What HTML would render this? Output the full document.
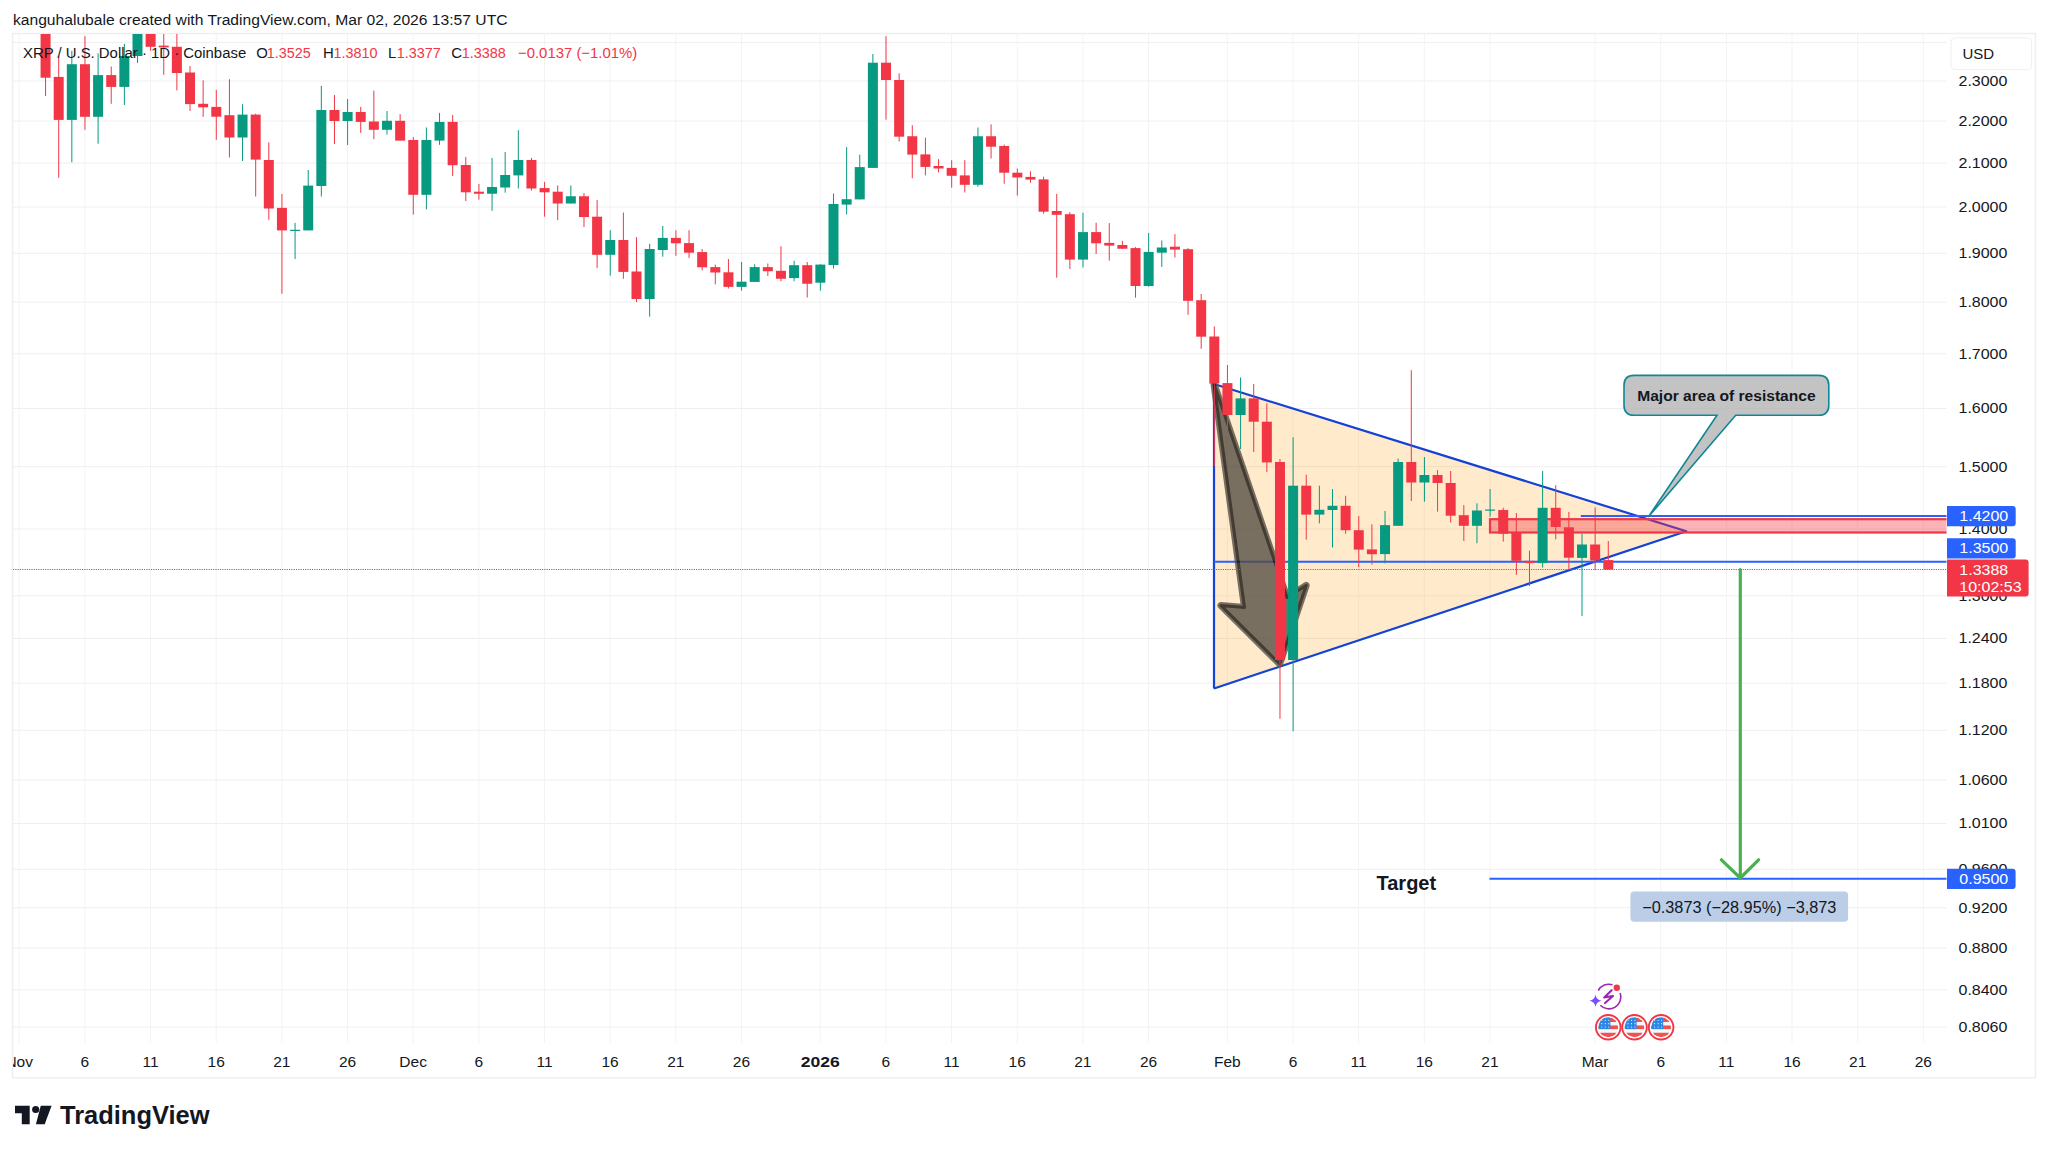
<!DOCTYPE html>
<html><head><meta charset="utf-8"><style>html,body{margin:0;padding:0;background:#fff;width:2048px;height:1152px;overflow:hidden;position:relative}</style></head>
<body><svg width="2048" height="1152" viewBox="0 0 2048 1152" style="position:absolute;left:0;top:0"><defs><clipPath id="plot"><rect x="13" y="34" width="1933.5" height="1008.8"/></clipPath><clipPath id="xax"><rect x="13" y="1043" width="1933.5" height="34"/></clipPath></defs><g stroke="#EFEFEF" stroke-width="1"><line x1="12.5" y1="42.59" x2="1946.5" y2="42.59"/><line x1="12.5" y1="80.99" x2="1946.5" y2="80.99"/><line x1="12.5" y1="121.10" x2="1946.5" y2="121.10"/><line x1="12.5" y1="163.08" x2="1946.5" y2="163.08"/><line x1="12.5" y1="207.10" x2="1946.5" y2="207.10"/><line x1="12.5" y1="253.38" x2="1946.5" y2="253.38"/><line x1="12.5" y1="302.17" x2="1946.5" y2="302.17"/><line x1="12.5" y1="353.74" x2="1946.5" y2="353.74"/><line x1="12.5" y1="408.45" x2="1946.5" y2="408.45"/><line x1="12.5" y1="466.68" x2="1946.5" y2="466.68"/><line x1="12.5" y1="528.93" x2="1946.5" y2="528.93"/><line x1="12.5" y1="595.80" x2="1946.5" y2="595.80"/><line x1="12.5" y1="638.44" x2="1946.5" y2="638.44"/><line x1="12.5" y1="683.19" x2="1946.5" y2="683.19"/><line x1="12.5" y1="730.28" x2="1946.5" y2="730.28"/><line x1="12.5" y1="779.96" x2="1946.5" y2="779.96"/><line x1="12.5" y1="823.56" x2="1946.5" y2="823.56"/><line x1="12.5" y1="869.37" x2="1946.5" y2="869.37"/><line x1="12.5" y1="907.78" x2="1946.5" y2="907.78"/><line x1="12.5" y1="947.89" x2="1946.5" y2="947.89"/><line x1="12.5" y1="989.86" x2="1946.5" y2="989.86"/><line x1="12.5" y1="1027.14" x2="1946.5" y2="1027.14"/><line x1="19.20" y1="33.4" x2="19.20" y2="1042.8" stroke="#F3F3F3"/><line x1="84.86" y1="33.4" x2="84.86" y2="1042.8" stroke="#F3F3F3"/><line x1="150.52" y1="33.4" x2="150.52" y2="1042.8" stroke="#F3F3F3"/><line x1="216.18" y1="33.4" x2="216.18" y2="1042.8" stroke="#F3F3F3"/><line x1="281.84" y1="33.4" x2="281.84" y2="1042.8" stroke="#F3F3F3"/><line x1="347.50" y1="33.4" x2="347.50" y2="1042.8" stroke="#F3F3F3"/><line x1="413.16" y1="33.4" x2="413.16" y2="1042.8" stroke="#F3F3F3"/><line x1="478.82" y1="33.4" x2="478.82" y2="1042.8" stroke="#F3F3F3"/><line x1="544.48" y1="33.4" x2="544.48" y2="1042.8" stroke="#F3F3F3"/><line x1="610.14" y1="33.4" x2="610.14" y2="1042.8" stroke="#F3F3F3"/><line x1="675.80" y1="33.4" x2="675.80" y2="1042.8" stroke="#F3F3F3"/><line x1="741.46" y1="33.4" x2="741.46" y2="1042.8" stroke="#F3F3F3"/><line x1="820.25" y1="33.4" x2="820.25" y2="1042.8" stroke="#F3F3F3"/><line x1="885.91" y1="33.4" x2="885.91" y2="1042.8" stroke="#F3F3F3"/><line x1="951.57" y1="33.4" x2="951.57" y2="1042.8" stroke="#F3F3F3"/><line x1="1017.23" y1="33.4" x2="1017.23" y2="1042.8" stroke="#F3F3F3"/><line x1="1082.89" y1="33.4" x2="1082.89" y2="1042.8" stroke="#F3F3F3"/><line x1="1148.55" y1="33.4" x2="1148.55" y2="1042.8" stroke="#F3F3F3"/><line x1="1227.34" y1="33.4" x2="1227.34" y2="1042.8" stroke="#F3F3F3"/><line x1="1293.00" y1="33.4" x2="1293.00" y2="1042.8" stroke="#F3F3F3"/><line x1="1358.66" y1="33.4" x2="1358.66" y2="1042.8" stroke="#F3F3F3"/><line x1="1424.32" y1="33.4" x2="1424.32" y2="1042.8" stroke="#F3F3F3"/><line x1="1489.98" y1="33.4" x2="1489.98" y2="1042.8" stroke="#F3F3F3"/><line x1="1595.04" y1="33.4" x2="1595.04" y2="1042.8" stroke="#F3F3F3"/><line x1="1660.70" y1="33.4" x2="1660.70" y2="1042.8" stroke="#F3F3F3"/><line x1="1726.36" y1="33.4" x2="1726.36" y2="1042.8" stroke="#F3F3F3"/><line x1="1792.02" y1="33.4" x2="1792.02" y2="1042.8" stroke="#F3F3F3"/><line x1="1857.68" y1="33.4" x2="1857.68" y2="1042.8" stroke="#F3F3F3"/><line x1="1923.34" y1="33.4" x2="1923.34" y2="1042.8" stroke="#F3F3F3"/></g><path d="M12.5 33.4H2035.5V1077.8H12.5Z" fill="none" stroke="#EEEFF1" stroke-width="1.5"/><g clip-path="url(#plot)"><polygon points="1214,384 1686.3,531.2 1214,688.5" fill="rgba(255,150,0,0.2)"/><polyline points="1214,688.5 1214,384 1686.3,531.2 1214,688.5" fill="none" stroke="#1442D4" stroke-width="2.2" stroke-linejoin="round"/><rect x="1490" y="519.2" width="460" height="13.3" fill="rgba(242,54,69,0.38)" stroke="#F23645" stroke-width="2.2"/><line x1="1214" y1="561.8" x2="1950" y2="561.8" stroke="#2962FF" stroke-width="2"/><line x1="1580.8" y1="516.1" x2="1950" y2="516.1" stroke="#2962FF" stroke-width="2"/><line x1="1489.5" y1="878.8" x2="1950" y2="878.8" stroke="#2962FF" stroke-width="2"/><g opacity="0.78"><polygon points="1214,384 1287,597.6 1306.2,585.4 1279.6,663.8 1221,605.5 1244.5,607.5" fill="#544D43" stroke="#544D43" stroke-width="7" stroke-linejoin="round"/><polygon points="1214,384 1287,597.6 1306.2,585.4 1279.6,663.8 1221,605.5 1244.5,607.5" fill="none" stroke="#0E0C09" stroke-width="3" stroke-linejoin="round"/></g><line x1="13" y1="569.5" x2="1950" y2="569.5" stroke="#F23645" stroke-width="1" stroke-dasharray="1.15 1.15"/><g fill="#F23645"><rect x="45.06" y="30.00" width="1" height="66.00"/><rect x="40.56" y="30.00" width="10" height="47.70"/><rect x="58.20" y="56.00" width="1" height="121.90"/><rect x="53.70" y="76.90" width="10" height="43.00"/><rect x="84.46" y="36.10" width="1" height="93.70"/><rect x="79.96" y="64.20" width="10" height="52.60"/><rect x="110.72" y="66.50" width="1" height="37.30"/><rect x="106.22" y="75.10" width="10" height="11.80"/><rect x="150.12" y="30.00" width="1" height="20.80"/><rect x="145.62" y="30.00" width="10" height="16.80"/><rect x="163.25" y="30.00" width="1" height="44.80"/><rect x="158.75" y="45.60" width="10" height="1.80"/><rect x="176.38" y="30.00" width="1" height="60.40"/><rect x="171.88" y="46.80" width="10" height="26.20"/><rect x="189.52" y="66.00" width="1" height="45.00"/><rect x="185.02" y="72.50" width="10" height="31.60"/><rect x="202.65" y="80.30" width="1" height="36.50"/><rect x="198.15" y="103.80" width="10" height="3.50"/><rect x="215.78" y="89.80" width="1" height="50.00"/><rect x="211.28" y="106.90" width="10" height="9.80"/><rect x="228.91" y="79.20" width="1" height="78.30"/><rect x="224.41" y="115.20" width="10" height="22.30"/><rect x="255.18" y="113.75" width="1" height="82.75"/><rect x="250.68" y="114.60" width="10" height="45.00"/><rect x="268.31" y="142.30" width="1" height="77.50"/><rect x="263.81" y="160.00" width="10" height="48.50"/><rect x="281.44" y="194.00" width="1" height="99.75"/><rect x="276.94" y="207.90" width="10" height="22.50"/><rect x="333.97" y="95.00" width="1" height="49.00"/><rect x="329.47" y="110.00" width="10" height="11.00"/><rect x="360.23" y="106.90" width="1" height="26.00"/><rect x="355.73" y="112.00" width="10" height="9.90"/><rect x="373.36" y="90.60" width="1" height="48.60"/><rect x="368.86" y="121.50" width="10" height="8.30"/><rect x="399.63" y="114.20" width="1" height="26.40"/><rect x="395.13" y="120.80" width="10" height="19.80"/><rect x="412.76" y="137.10" width="1" height="77.50"/><rect x="408.26" y="140.00" width="10" height="54.80"/><rect x="452.16" y="115.00" width="1" height="61.00"/><rect x="447.66" y="121.90" width="10" height="43.30"/><rect x="465.29" y="156.90" width="1" height="44.10"/><rect x="460.79" y="165.00" width="10" height="27.30"/><rect x="478.42" y="184.00" width="1" height="15.60"/><rect x="473.92" y="191.70" width="10" height="2.05"/><rect x="530.95" y="157.90" width="1" height="32.70"/><rect x="526.45" y="160.00" width="10" height="28.50"/><rect x="544.08" y="181.90" width="1" height="34.80"/><rect x="539.58" y="188.10" width="10" height="4.20"/><rect x="557.21" y="185.40" width="1" height="34.80"/><rect x="552.71" y="191.70" width="10" height="11.80"/><rect x="583.48" y="193.10" width="1" height="33.90"/><rect x="578.98" y="196.25" width="10" height="20.75"/><rect x="596.61" y="200.00" width="1" height="68.10"/><rect x="592.11" y="216.70" width="10" height="38.10"/><rect x="622.87" y="212.50" width="1" height="66.25"/><rect x="618.37" y="240.00" width="10" height="31.90"/><rect x="636.00" y="237.10" width="1" height="65.00"/><rect x="631.50" y="271.50" width="10" height="27.50"/><rect x="675.40" y="230.20" width="1" height="25.60"/><rect x="670.90" y="237.90" width="10" height="5.40"/><rect x="688.53" y="230.20" width="1" height="27.70"/><rect x="684.03" y="243.10" width="10" height="9.60"/><rect x="701.66" y="249.00" width="1" height="21.40"/><rect x="697.16" y="252.10" width="10" height="15.20"/><rect x="714.80" y="264.60" width="1" height="19.80"/><rect x="710.30" y="267.10" width="10" height="5.40"/><rect x="727.93" y="259.00" width="1" height="29.50"/><rect x="723.43" y="272.30" width="10" height="14.60"/><rect x="767.32" y="263.50" width="1" height="12.50"/><rect x="762.82" y="267.10" width="10" height="4.15"/><rect x="780.46" y="246.25" width="1" height="35.00"/><rect x="775.96" y="270.80" width="10" height="7.95"/><rect x="806.72" y="262.00" width="1" height="35.50"/><rect x="802.22" y="265.20" width="10" height="18.55"/><rect x="885.51" y="36.25" width="1" height="83.35"/><rect x="881.01" y="62.70" width="10" height="17.30"/><rect x="898.64" y="73.30" width="1" height="68.20"/><rect x="894.14" y="80.00" width="10" height="56.70"/><rect x="911.78" y="125.20" width="1" height="53.10"/><rect x="907.28" y="136.25" width="10" height="18.35"/><rect x="924.91" y="137.70" width="1" height="37.70"/><rect x="920.41" y="154.40" width="10" height="12.50"/><rect x="938.04" y="159.20" width="1" height="13.10"/><rect x="933.54" y="166.00" width="10" height="2.50"/><rect x="951.17" y="160.20" width="1" height="27.50"/><rect x="946.67" y="167.90" width="10" height="7.90"/><rect x="964.30" y="160.20" width="1" height="32.30"/><rect x="959.80" y="175.40" width="10" height="9.40"/><rect x="990.57" y="124.40" width="1" height="34.10"/><rect x="986.07" y="136.25" width="10" height="10.45"/><rect x="1003.70" y="144.60" width="1" height="39.15"/><rect x="999.20" y="146.00" width="10" height="26.70"/><rect x="1016.83" y="168.50" width="1" height="27.10"/><rect x="1012.33" y="172.70" width="10" height="4.80"/><rect x="1029.96" y="171.25" width="1" height="11.45"/><rect x="1025.46" y="176.90" width="10" height="2.70"/><rect x="1043.10" y="176.70" width="1" height="37.05"/><rect x="1038.60" y="179.40" width="10" height="32.30"/><rect x="1056.23" y="194.00" width="1" height="83.70"/><rect x="1051.73" y="211.00" width="10" height="3.80"/><rect x="1069.36" y="212.10" width="1" height="56.90"/><rect x="1064.86" y="214.20" width="10" height="45.40"/><rect x="1095.62" y="222.70" width="1" height="31.30"/><rect x="1091.12" y="232.10" width="10" height="11.20"/><rect x="1108.76" y="223.10" width="1" height="37.50"/><rect x="1104.26" y="242.90" width="10" height="2.70"/><rect x="1121.89" y="240.80" width="1" height="8.20"/><rect x="1117.39" y="245.00" width="10" height="3.75"/><rect x="1135.02" y="247.10" width="1" height="50.60"/><rect x="1130.52" y="248.10" width="10" height="37.90"/><rect x="1174.42" y="234.20" width="1" height="23.30"/><rect x="1169.92" y="246.70" width="10" height="2.90"/><rect x="1187.55" y="248.10" width="1" height="66.70"/><rect x="1183.05" y="249.20" width="10" height="51.60"/><rect x="1200.68" y="294.00" width="1" height="54.75"/><rect x="1196.18" y="300.20" width="10" height="36.50"/><rect x="1213.81" y="326.40" width="1" height="139.80"/><rect x="1209.31" y="336.50" width="10" height="47.00"/><rect x="1226.94" y="365.00" width="1" height="71.00"/><rect x="1222.44" y="383.10" width="10" height="31.90"/><rect x="1253.21" y="384.00" width="1" height="67.90"/><rect x="1248.71" y="398.40" width="10" height="23.30"/><rect x="1266.34" y="403.20" width="1" height="68.70"/><rect x="1261.84" y="421.70" width="10" height="40.70"/><rect x="1279.47" y="459.00" width="1" height="259.75"/><rect x="1274.97" y="462.00" width="10" height="198.00"/><rect x="1305.74" y="474.80" width="1" height="64.80"/><rect x="1301.24" y="485.70" width="10" height="28.90"/><rect x="1345.13" y="495.80" width="1" height="37.95"/><rect x="1340.63" y="505.80" width="10" height="24.40"/><rect x="1358.26" y="516.00" width="1" height="51.10"/><rect x="1353.76" y="530.20" width="10" height="19.40"/><rect x="1371.40" y="524.40" width="1" height="40.20"/><rect x="1366.90" y="549.40" width="10" height="4.80"/><rect x="1410.79" y="370.20" width="1" height="130.80"/><rect x="1406.29" y="462.00" width="10" height="20.50"/><rect x="1437.06" y="470.10" width="1" height="41.50"/><rect x="1432.56" y="475.00" width="10" height="8.00"/><rect x="1450.19" y="471.00" width="1" height="51.50"/><rect x="1445.69" y="483.00" width="10" height="32.70"/><rect x="1463.32" y="505.10" width="1" height="35.90"/><rect x="1458.82" y="515.20" width="10" height="10.60"/><rect x="1502.72" y="507.80" width="1" height="33.80"/><rect x="1498.22" y="510.00" width="10" height="23.70"/><rect x="1515.85" y="513.00" width="1" height="61.80"/><rect x="1511.35" y="532.60" width="10" height="28.20"/><rect x="1528.98" y="550.70" width="1" height="35.40"/><rect x="1524.48" y="560.80" width="10" height="2.30"/><rect x="1555.24" y="485.20" width="1" height="54.20"/><rect x="1550.74" y="507.80" width="10" height="19.20"/><rect x="1568.38" y="512.00" width="1" height="58.00"/><rect x="1563.88" y="527.30" width="10" height="30.40"/><rect x="1594.64" y="507.50" width="1" height="62.50"/><rect x="1590.14" y="544.50" width="10" height="16.00"/><rect x="1607.77" y="541.00" width="1" height="28.60"/><rect x="1603.27" y="560.10" width="10" height="9.50"/></g><g fill="#089981"><rect x="71.33" y="50.80" width="1" height="111.50"/><rect x="66.83" y="64.20" width="10" height="55.70"/><rect x="97.59" y="53.40" width="1" height="90.30"/><rect x="93.09" y="75.10" width="10" height="41.70"/><rect x="123.86" y="43.90" width="1" height="61.10"/><rect x="119.36" y="56.00" width="10" height="30.90"/><rect x="136.99" y="30.00" width="1" height="33.00"/><rect x="132.49" y="30.00" width="10" height="26.00"/><rect x="242.04" y="104.20" width="1" height="56.80"/><rect x="237.54" y="114.60" width="10" height="22.90"/><rect x="294.57" y="222.90" width="1" height="36.10"/><rect x="290.07" y="229.80" width="10" height="1.20"/><rect x="307.70" y="170.00" width="1" height="60.40"/><rect x="303.20" y="185.60" width="10" height="44.80"/><rect x="320.84" y="86.00" width="1" height="110.50"/><rect x="316.34" y="110.00" width="10" height="76.00"/><rect x="347.10" y="99.00" width="1" height="46.00"/><rect x="342.60" y="112.00" width="10" height="9.00"/><rect x="386.50" y="111.00" width="1" height="23.60"/><rect x="382.00" y="120.80" width="10" height="9.00"/><rect x="425.89" y="127.50" width="1" height="81.90"/><rect x="421.39" y="140.00" width="10" height="54.80"/><rect x="439.02" y="112.90" width="1" height="31.90"/><rect x="434.52" y="121.90" width="10" height="18.70"/><rect x="491.55" y="157.90" width="1" height="52.90"/><rect x="487.05" y="187.00" width="10" height="6.75"/><rect x="504.68" y="152.00" width="1" height="40.70"/><rect x="500.18" y="175.00" width="10" height="12.50"/><rect x="517.82" y="130.20" width="1" height="58.30"/><rect x="513.32" y="160.00" width="10" height="15.40"/><rect x="570.34" y="185.40" width="1" height="18.10"/><rect x="565.84" y="196.25" width="10" height="7.25"/><rect x="609.74" y="230.20" width="1" height="45.40"/><rect x="605.24" y="240.00" width="10" height="14.80"/><rect x="649.14" y="243.75" width="1" height="72.95"/><rect x="644.64" y="249.00" width="10" height="50.00"/><rect x="662.27" y="226.00" width="1" height="30.70"/><rect x="657.77" y="237.90" width="10" height="12.10"/><rect x="741.06" y="262.00" width="1" height="28.60"/><rect x="736.56" y="281.70" width="10" height="5.20"/><rect x="754.19" y="264.20" width="1" height="17.70"/><rect x="749.69" y="267.10" width="10" height="14.80"/><rect x="793.59" y="260.80" width="1" height="20.45"/><rect x="789.09" y="265.20" width="10" height="12.90"/><rect x="819.85" y="264.20" width="1" height="26.40"/><rect x="815.35" y="264.60" width="10" height="18.10"/><rect x="832.98" y="193.50" width="1" height="75.00"/><rect x="828.48" y="204.00" width="10" height="61.00"/><rect x="846.12" y="147.10" width="1" height="67.30"/><rect x="841.62" y="199.20" width="10" height="5.40"/><rect x="859.25" y="154.60" width="1" height="44.80"/><rect x="854.75" y="167.10" width="10" height="32.30"/><rect x="872.38" y="54.00" width="1" height="113.90"/><rect x="867.88" y="62.70" width="10" height="105.20"/><rect x="977.44" y="127.50" width="1" height="59.20"/><rect x="972.94" y="136.25" width="10" height="48.55"/><rect x="1082.49" y="212.70" width="1" height="54.80"/><rect x="1077.99" y="232.10" width="10" height="27.50"/><rect x="1148.15" y="232.90" width="1" height="53.80"/><rect x="1143.65" y="251.90" width="10" height="34.10"/><rect x="1161.28" y="240.40" width="1" height="26.50"/><rect x="1156.78" y="247.50" width="10" height="5.20"/><rect x="1240.08" y="377.40" width="1" height="71.60"/><rect x="1235.58" y="398.40" width="10" height="16.60"/><rect x="1292.60" y="437.20" width="1" height="294.05"/><rect x="1288.10" y="485.70" width="10" height="174.30"/><rect x="1318.87" y="485.70" width="1" height="37.60"/><rect x="1314.37" y="509.80" width="10" height="4.80"/><rect x="1332.00" y="489.10" width="1" height="58.40"/><rect x="1327.50" y="505.80" width="10" height="4.20"/><rect x="1384.53" y="511.00" width="1" height="52.30"/><rect x="1380.03" y="525.10" width="10" height="29.00"/><rect x="1397.66" y="458.60" width="1" height="67.20"/><rect x="1393.16" y="462.00" width="10" height="63.80"/><rect x="1423.92" y="457.00" width="1" height="44.70"/><rect x="1419.42" y="475.00" width="10" height="7.50"/><rect x="1476.45" y="503.30" width="1" height="39.90"/><rect x="1471.95" y="510.50" width="10" height="15.30"/><rect x="1489.58" y="489.00" width="1" height="27.80"/><rect x="1485.08" y="509.50" width="10" height="1.20"/><rect x="1542.11" y="471.00" width="1" height="96.60"/><rect x="1537.61" y="507.80" width="10" height="55.30"/><rect x="1581.51" y="533.50" width="1" height="82.50"/><rect x="1577.01" y="544.50" width="10" height="13.40"/></g><path d="M1740.3 569.5 V878 M1721.4 859.8 L1740.3 878 L1758.6 859.8" fill="none" stroke="#4CAF50" stroke-width="3.2" stroke-linecap="round" stroke-linejoin="round"/><path d="M1634 375.4 H1818.8 Q1828.8 375.4 1828.8 385.4 V405.3 Q1828.8 415.3 1818.8 415.3 H1735.7 L1648.2 517.1 L1717 415.3 H1634 Q1624 415.3 1624 405.3 V385.4 Q1624 375.4 1634 375.4 Z" fill="rgba(178,178,178,0.78)" stroke="#0E8796" stroke-width="1.6"/><text transform="translate(1726.4 400.8) scale(1 0.93)" font-family='"Liberation Sans", sans-serif' font-weight="700" font-size="15.6" fill="#131722" text-anchor="middle">Major area of resistance</text><text x="1376.5" y="890.3" font-family='"Liberation Sans", sans-serif' font-weight="700" font-size="20" fill="#131722">Target</text><rect x="1630.4" y="891.5" width="217.7" height="30.3" rx="4" fill="#BBCDE7"/><text x="1739.3" y="912.5" font-family='"Liberation Sans", sans-serif' font-size="16.3" fill="#131722" text-anchor="middle">−0.3873 (−28.95%) −3,873</text></g><text transform="translate(12.9 24.8) scale(1 0.93)" font-family='"Liberation Sans", sans-serif' font-size="15.65" fill="#131722">kanguhalubale created with TradingView.com, Mar 02, 2026 13:57 UTC</text><g font-family='"Liberation Sans", sans-serif' font-size="14.9"><text x="23" y="57.5" fill="#131722">XRP / U.S. Dollar · 1D · Coinbase</text><text x="256.2" y="57.5" fill="#131722">O</text><text x="266.7" y="57.5" fill="#F23645" textLength="44" lengthAdjust="spacingAndGlyphs">1.3525</text><text x="322.9" y="57.5" fill="#131722">H</text><text x="333.4" y="57.5" fill="#F23645" textLength="44" lengthAdjust="spacingAndGlyphs">1.3810</text><text x="387.9" y="57.5" fill="#131722">L</text><text x="396.7" y="57.5" fill="#F23645" textLength="44" lengthAdjust="spacingAndGlyphs">1.3377</text><text x="451.2" y="57.5" fill="#131722">C</text><text x="461.7" y="57.5" fill="#F23645" textLength="44" lengthAdjust="spacingAndGlyphs">1.3388</text><text x="518" y="57.5" fill="#F23645">−0.0137 (−1.01%)</text></g><g font-family='"Liberation Sans", sans-serif' font-size="16" fill="#131722"><text transform="translate(1958.5 85.89) scale(1 0.92)">2.3000</text><text transform="translate(1958.5 126.00) scale(1 0.92)">2.2000</text><text transform="translate(1958.5 167.98) scale(1 0.92)">2.1000</text><text transform="translate(1958.5 212.00) scale(1 0.92)">2.0000</text><text transform="translate(1958.5 258.28) scale(1 0.92)">1.9000</text><text transform="translate(1958.5 307.07) scale(1 0.92)">1.8000</text><text transform="translate(1958.5 358.64) scale(1 0.92)">1.7000</text><text transform="translate(1958.5 413.35) scale(1 0.92)">1.6000</text><text transform="translate(1958.5 471.58) scale(1 0.92)">1.5000</text><text transform="translate(1958.5 533.83) scale(1 0.92)">1.4000</text><text transform="translate(1958.5 600.70) scale(1 0.92)">1.3000</text><text transform="translate(1958.5 643.34) scale(1 0.92)">1.2400</text><text transform="translate(1958.5 688.09) scale(1 0.92)">1.1800</text><text transform="translate(1958.5 735.18) scale(1 0.92)">1.1200</text><text transform="translate(1958.5 784.86) scale(1 0.92)">1.0600</text><text transform="translate(1958.5 828.46) scale(1 0.92)">1.0100</text><text transform="translate(1958.5 874.27) scale(1 0.92)">0.9600</text><text transform="translate(1958.5 912.68) scale(1 0.92)">0.9200</text><text transform="translate(1958.5 952.79) scale(1 0.92)">0.8800</text><text transform="translate(1958.5 994.76) scale(1 0.92)">0.8400</text><text transform="translate(1958.5 1032.04) scale(1 0.92)">0.8060</text></g><rect x="1951" y="37.8" width="80.6" height="31.8" rx="4" fill="#fff" stroke="#EEEFF1" stroke-width="1"/><text x="1962.5" y="59.2" font-family='"Liberation Sans", sans-serif' font-size="15" fill="#131722">USD</text><path d="M1947 506 H2012.7 Q2015.7 506 2015.7 509 V523.3 Q2015.7 526.3 2012.7 526.3 H1947 Z" fill="#2962FF"/><text transform="translate(1959.3 521.1) scale(1 0.92)" font-family='"Liberation Sans", sans-serif' font-size="16" fill="#fff">1.4200</text><path d="M1947 538.3 H2012.7 Q2015.7 538.3 2015.7 541.3 V555.5999999999999 Q2015.7 558.5999999999999 2012.7 558.5999999999999 H1947 Z" fill="#2962FF"/><text transform="translate(1959.3 553.4) scale(1 0.92)" font-family='"Liberation Sans", sans-serif' font-size="16" fill="#fff">1.3500</text><path d="M1947 559.4 H2025.6 Q2028.6 559.4 2028.6 562.4 V593.6 Q2028.6 596.6 2025.6 596.6 H1947 Z" fill="#F23645"/><text transform="translate(1959.3 574.6) scale(1 0.92)" font-family='"Liberation Sans", sans-serif' font-size="16" fill="#fff">1.3388</text><text transform="translate(1959.3 591.6) scale(1 0.92)" font-family='"Liberation Sans", sans-serif' font-size="16" fill="#fff">10:02:53</text><path d="M1947 868.8 H2012.6 Q2015.6 868.8 2015.6 871.8 V885.9 Q2015.6 888.9 2012.6 888.9 H1947 Z" fill="#2962FF"/><text transform="translate(1959.3 883.8) scale(1 0.92)" font-family='"Liberation Sans", sans-serif' font-size="16" fill="#fff">0.9500</text><g clip-path="url(#xax)" font-family='"Liberation Sans", sans-serif' font-size="15.5" fill="#131722" text-anchor="middle"><text x="19.20" y="1066.5">Nov</text><text x="84.86" y="1066.5">6</text><text x="150.52" y="1066.5">11</text><text x="216.18" y="1066.5">16</text><text x="281.84" y="1066.5">21</text><text x="347.50" y="1066.5">26</text><text x="413.16" y="1066.5">Dec</text><text x="478.82" y="1066.5">6</text><text x="544.48" y="1066.5">11</text><text x="610.14" y="1066.5">16</text><text x="675.80" y="1066.5">21</text><text x="741.46" y="1066.5">26</text><text x="820.25" y="1066.5" font-weight="700" textLength="39" lengthAdjust="spacingAndGlyphs">2026</text><text x="885.91" y="1066.5">6</text><text x="951.57" y="1066.5">11</text><text x="1017.23" y="1066.5">16</text><text x="1082.89" y="1066.5">21</text><text x="1148.55" y="1066.5">26</text><text x="1227.34" y="1066.5">Feb</text><text x="1293.00" y="1066.5">6</text><text x="1358.66" y="1066.5">11</text><text x="1424.32" y="1066.5">16</text><text x="1489.98" y="1066.5">21</text><text x="1595.04" y="1066.5">Mar</text><text x="1660.70" y="1066.5">6</text><text x="1726.36" y="1066.5">11</text><text x="1792.02" y="1066.5">16</text><text x="1857.68" y="1066.5">21</text><text x="1923.34" y="1066.5">26</text></g><g><path d="M1598.3 990.5 A12 12 0 0 1 1612.5 984.8" fill="none" stroke="#9C27B0" stroke-width="1.6"/><path d="M1620.2 993 A12 12 0 0 1 1600.3 1005.3" fill="none" stroke="#9C27B0" stroke-width="1.6"/><circle cx="1616.8" cy="987.8" r="3.2" fill="#F23645"/><path d="M1595.5 994.8 Q1596.3 1000 1601.5 1000.8 Q1596.3 1001.6 1595.5 1006.8 Q1594.7 1001.6 1589.5 1000.8 Q1594.7 1000 1595.5 994.8 Z" fill="#7C4DFF"/><path d="M1611.6 990.3 L1604.2 997.4 L1613 996 L1605 1003" fill="none" stroke="#9C27B0" stroke-width="2.1" stroke-linejoin="round" stroke-linecap="round"/></g><circle cx="1608.25" cy="1027.25" r="12.3" fill="#fff" stroke="#F23645" stroke-width="1.9"/><clipPath id="fc1608"><circle cx="1608.25" cy="1027.25" r="9.9"/></clipPath><g clip-path="url(#fc1608)"><rect x="1598.25" y="1017.25" width="20" height="4.8" fill="#EF5350"/><rect x="1598.25" y="1022.05" width="20" height="3.4000000000000004" fill="#F2F7FC"/><rect x="1598.25" y="1025.45" width="20" height="3.9000000000000004" fill="#EF5350"/><rect x="1598.25" y="1029.35" width="20" height="3.4" fill="#F2F7FC"/><rect x="1598.25" y="1032.75" width="20" height="4.5" fill="#EF5350"/><rect x="1598.25" y="1017.55" width="12.1" height="11.5" fill="#2B87E3"/><circle cx="1601.75" cy="1020.25" r="0.55" fill="#fff"/><circle cx="1601.75" cy="1023.65" r="0.55" fill="#fff"/><circle cx="1601.75" cy="1026.95" r="0.55" fill="#fff"/><circle cx="1605.25" cy="1020.25" r="0.55" fill="#fff"/><circle cx="1605.25" cy="1023.65" r="0.55" fill="#fff"/><circle cx="1605.25" cy="1026.95" r="0.55" fill="#fff"/><circle cx="1608.75" cy="1020.25" r="0.55" fill="#fff"/><circle cx="1608.75" cy="1023.65" r="0.55" fill="#fff"/><circle cx="1608.75" cy="1026.95" r="0.55" fill="#fff"/></g><circle cx="1634.5" cy="1027.25" r="12.3" fill="#fff" stroke="#F23645" stroke-width="1.9"/><clipPath id="fc1634"><circle cx="1634.5" cy="1027.25" r="9.9"/></clipPath><g clip-path="url(#fc1634)"><rect x="1624.5" y="1017.25" width="20" height="4.8" fill="#EF5350"/><rect x="1624.5" y="1022.05" width="20" height="3.4000000000000004" fill="#F2F7FC"/><rect x="1624.5" y="1025.45" width="20" height="3.9000000000000004" fill="#EF5350"/><rect x="1624.5" y="1029.35" width="20" height="3.4" fill="#F2F7FC"/><rect x="1624.5" y="1032.75" width="20" height="4.5" fill="#EF5350"/><rect x="1624.5" y="1017.55" width="12.1" height="11.5" fill="#2B87E3"/><circle cx="1628.0" cy="1020.25" r="0.55" fill="#fff"/><circle cx="1628.0" cy="1023.65" r="0.55" fill="#fff"/><circle cx="1628.0" cy="1026.95" r="0.55" fill="#fff"/><circle cx="1631.5" cy="1020.25" r="0.55" fill="#fff"/><circle cx="1631.5" cy="1023.65" r="0.55" fill="#fff"/><circle cx="1631.5" cy="1026.95" r="0.55" fill="#fff"/><circle cx="1635.0" cy="1020.25" r="0.55" fill="#fff"/><circle cx="1635.0" cy="1023.65" r="0.55" fill="#fff"/><circle cx="1635.0" cy="1026.95" r="0.55" fill="#fff"/></g><circle cx="1661.1" cy="1027.25" r="12.3" fill="#fff" stroke="#F23645" stroke-width="1.9"/><clipPath id="fc1661"><circle cx="1661.1" cy="1027.25" r="9.9"/></clipPath><g clip-path="url(#fc1661)"><rect x="1651.1" y="1017.25" width="20" height="4.8" fill="#EF5350"/><rect x="1651.1" y="1022.05" width="20" height="3.4000000000000004" fill="#F2F7FC"/><rect x="1651.1" y="1025.45" width="20" height="3.9000000000000004" fill="#EF5350"/><rect x="1651.1" y="1029.35" width="20" height="3.4" fill="#F2F7FC"/><rect x="1651.1" y="1032.75" width="20" height="4.5" fill="#EF5350"/><rect x="1651.1" y="1017.55" width="12.1" height="11.5" fill="#2B87E3"/><circle cx="1654.6" cy="1020.25" r="0.55" fill="#fff"/><circle cx="1654.6" cy="1023.65" r="0.55" fill="#fff"/><circle cx="1654.6" cy="1026.95" r="0.55" fill="#fff"/><circle cx="1658.1" cy="1020.25" r="0.55" fill="#fff"/><circle cx="1658.1" cy="1023.65" r="0.55" fill="#fff"/><circle cx="1658.1" cy="1026.95" r="0.55" fill="#fff"/><circle cx="1661.6" cy="1020.25" r="0.55" fill="#fff"/><circle cx="1661.6" cy="1023.65" r="0.55" fill="#fff"/><circle cx="1661.6" cy="1026.95" r="0.55" fill="#fff"/></g><g fill="#131722"><path d="M15 1105.8 H29.7 V1124.2 H21.8 V1113.3 H15 Z"/><circle cx="35.7" cy="1109.5" r="3.6"/><path d="M40.8 1105.8 H51.6 L44.7 1124.2 H35.9 Z"/></g><text x="60" y="1124.2" font-family='"Liberation Sans", sans-serif' font-weight="700" font-size="25.4" fill="#131722" textLength="149.5" lengthAdjust="spacingAndGlyphs">TradingView</text></svg></body></html>
